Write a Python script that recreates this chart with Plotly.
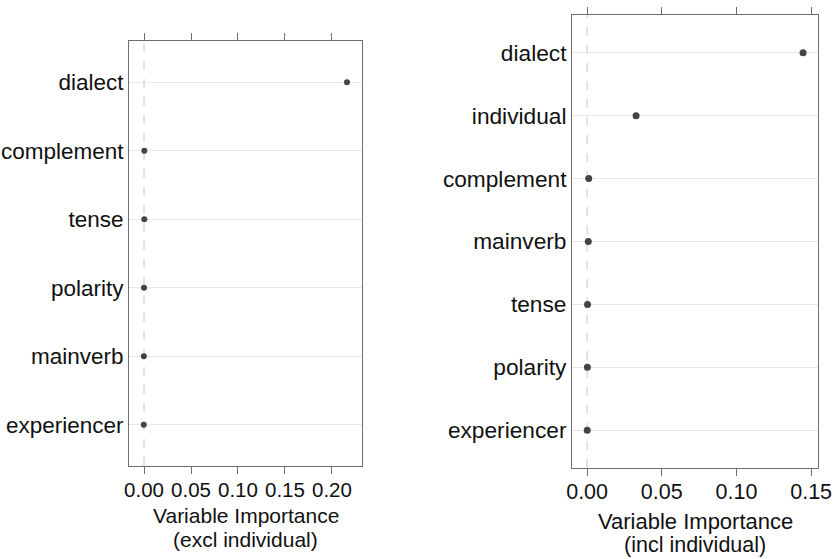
import plotly.graph_objects as go

# Left panel (excl individual)
cats_left = ["experiencer", "mainverb", "polarity", "tense", "complement", "dialect"]
vals_left = [-0.0003, -0.0002, 0.0, 0.0003, 0.0003, 0.216]
ticks_left = [0.00, 0.05, 0.10, 0.15, 0.20]
ticklabels_left = ["0.00", "0.05", "0.10", "0.15", "0.20"]

# Right panel (incl individual)
cats_right = ["experiencer", "polarity", "tense", "mainverb", "complement", "individual", "dialect"]
vals_right = [0.0001, 0.0002, 0.0003, 0.0008, 0.0011, 0.0328, 0.1446]
ticks_right = [0.00, 0.05, 0.10, 0.15]
ticklabels_right = ["0.00", "0.05", "0.10", "0.15"]

W, H = 834, 559
FONT = "Liberation Sans, Arial, sans-serif"
BOX = "#6e6e6e"
TXT = "#111111"

def px(x): return x / W
def py(y): return 1 - y / H

fig = go.Figure()

fig.add_trace(go.Scatter(x=vals_left, y=cats_left, mode="markers",
                         marker=dict(color="#444444", size=6), xaxis="x", yaxis="y",
                         showlegend=False, hoverinfo="x+y"))
fig.add_trace(go.Scatter(x=vals_right, y=cats_right, mode="markers",
                         marker=dict(color="#444444", size=7), xaxis="x2", yaxis="y2",
                         showlegend=False, hoverinfo="x+y"))

def xaxis_style(size, standoff):
    return dict(showline=True, linecolor=BOX, linewidth=1, mirror="ticks",
                ticks="outside", ticklen=7, tickcolor=BOX, tickwidth=1,
                showgrid=False, zeroline=False, automargin=False,
                ticklabelstandoff=standoff,
                tickfont=dict(family=FONT, color=TXT, size=size))

def yaxis_style(size, standoff):
    return dict(showline=True, linecolor=BOX, linewidth=1, mirror=True,
                ticks="", showgrid=True, gridcolor="#e8e8e8", gridwidth=1,
                type="category", automargin=False, ticklabelstandoff=standoff,
                zeroline=False,
                tickfont=dict(family=FONT, color=TXT, size=size))

fig.update_layout(
    template="none",
    width=W, height=H,
    margin=dict(l=0, r=0, t=0, b=0, pad=0),
    paper_bgcolor="white", plot_bgcolor="white",
    xaxis=dict(domain=[px(129), px(362)], range=[-0.016, 0.232],
               tickvals=ticks_left, ticktext=ticklabels_left, anchor="y",
               **xaxis_style(20.5, -2)),
    yaxis=dict(domain=[py(466), py(41)], range=[-0.6, 5.6], anchor="x",
               categoryorder="array", categoryarray=cats_left,
               **yaxis_style(22.5, 0)),
    xaxis2=dict(domain=[px(572), px(818)], range=[-0.0101, 0.1546],
                tickvals=ticks_right, ticktext=ticklabels_right, anchor="y2",
                **xaxis_style(21.5, -3)),
    yaxis2=dict(domain=[py(468), py(15)], range=[-0.6, 6.6], anchor="x2",
                categoryorder="array", categoryarray=cats_right,
                **yaxis_style(22.7, 0)),
)

# zero reference lines (dashed)
for xa, ya in [("x", "y"), ("x2", "y2")]:
    fig.add_shape(type="line", xref=xa, yref=f"{ya} domain", x0=0, x1=0, y0=0, y1=1,
                  line=dict(color="#c8c8c8", width=1, dash="dash"), layer="below")

def ann(text, x, y, size):
    fig.add_annotation(text=text, x=px(x), y=py(y), xref="paper", yref="paper",
                       showarrow=False, xanchor="center", yanchor="middle",
                       font=dict(family=FONT, size=size, color=TXT))

ann("Variable Importance", 245.5, 515, 21)
ann("(excl individual)", 245.5, 539, 21)
ann("Variable Importance", 695, 521, 22)
ann("(incl individual)", 695, 545, 21.5)

fig.write_html("out.html", config={"displayModeBar": False},
               post_script="document.body.style.margin='0';document.body.style.padding='0';document.body.style.overflow='hidden';")
